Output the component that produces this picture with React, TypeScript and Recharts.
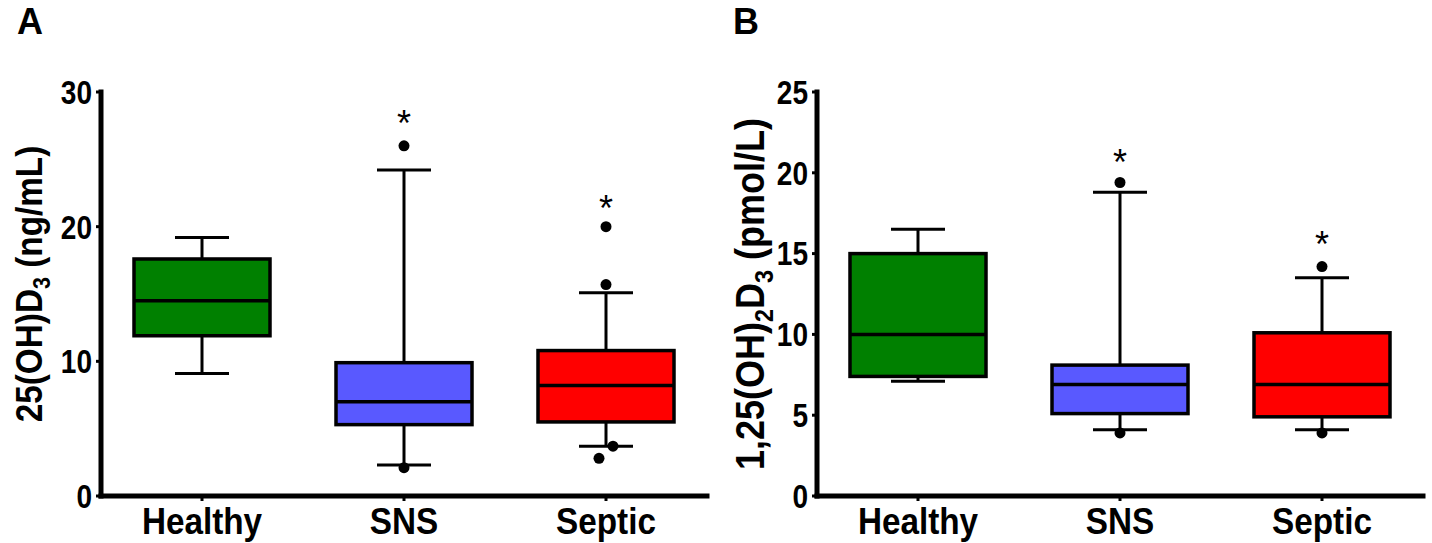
import React from "react";
import { ComposedChart, Bar, Cell, Line, XAxis, YAxis } from "recharts";

const groups = ["Healthy", "SNS", "Septic"];
const colors = ["#008000", "#5959FF", "#FF0000"];

// panel A: 25(OH)D3, ng/mL
const aLow = [9.1, 2.3, 3.7];
const aQ1 = [11.9, 5.3, 5.5];
const aMedian = [14.5, 7.0, 8.2];
const aQ3 = [17.6, 9.9, 10.8];
const aHigh = [19.2, 24.2, 15.1];
const aOutliers = [[], [26.0, 2.1], [20.0, 15.7, 3.7, 2.8]];
const aStars = [null, 28.2, 21.9];
const aTicks = [0, 10, 20, 30];

// panel B: 1,25(OH)2D3, pmol/L
const bLow = [7.1, 4.1, 4.1];
const bQ1 = [7.4, 5.1, 4.9];
const bMedian = [10.0, 6.9, 6.9];
const bQ3 = [15.0, 8.1, 10.1];
const bHigh = [16.5, 18.8, 13.5];
const bOutliers = [[], [19.4, 3.9], [14.2, 3.9]];
const bStars = [null, 21.1, 16.0];
const bTicks = [0, 5, 10, 15, 20, 25];

const font = "'Liberation Sans', Arial, sans-serif";
const outKeys = ["o0", "o1", "o2", "o3"];

function buildRows(low, q1, med, q3, high, outliers, stars) {
  return groups.map((name, i) => ({
    name,
    range: [low[i], high[i]],
    q1: q1[i],
    med: med[i],
    q3: q3[i],
    o0: outliers[i][0] ?? null,
    o1: outliers[i][1] ?? null,
    o2: outliers[i][2] ?? null,
    o3: outliers[i][3] ?? null,
    star: stars[i],
  }));
}

const BoxShape = (props: any) => {
  const { x, y, width, height, payload, fill } = props;
  const top = Math.min(y, y + height);
  const bottom = Math.max(y, y + height);
  const [lo, hi] = payload.range;
  const py = (v: number) => bottom - ((v - lo) / (hi - lo)) * (bottom - top);
  const cx = x + width / 2;
  const cap = 27;
  return (
    <g>
      <line x1={cx} x2={cx} y1={py(hi)} y2={py(payload.q3)} stroke="#000" strokeWidth={3} />
      <line x1={cx} x2={cx} y1={py(payload.q1)} y2={py(lo)} stroke="#000" strokeWidth={3} />
      <line x1={cx - cap} x2={cx + cap} y1={py(hi)} y2={py(hi)} stroke="#000" strokeWidth={3} />
      <line x1={cx - cap} x2={cx + cap} y1={py(lo)} y2={py(lo)} stroke="#000" strokeWidth={3} />
      <rect x={x} y={py(payload.q3)} width={width} height={py(payload.q1) - py(payload.q3)} fill={fill} stroke="#000" strokeWidth={3.5} />
      <line x1={x} x2={x + width} y1={py(payload.med)} y2={py(payload.med)} stroke="#000" strokeWidth={3.5} />
    </g>
  );
};

// outliers that sit close to each other are nudged apart sideways
const OutlierDot = (props: any) => {
  const { cx, cy, value, index, payload, dataKey } = props;
  if (value == null || cy == null) return <g key={`d${index}`} />;
  let dx = 0;
  const near = outKeys.filter((k) => k !== dataKey && payload[k] != null && Math.abs(payload[k] - value) < 1.2);
  if (near.length) dx = near.some((k) => payload[k] < value) ? 7 : -7;
  return <circle key={`d${index}`} cx={cx + dx} cy={cy} r={5.5} fill="#000" />;
};

const StarDot = (props: any) => {
  const { cx, cy, value, index } = props;
  if (value == null || cy == null) return <g key={`s${index}`} />;
  return (
    <text key={`s${index}`} x={cx} y={cy + 20} textAnchor="middle" fontSize={36} fontFamily={font} fill="#000">
      *
    </text>
  );
};

const XTick = (p: any) => (
  <g transform={`translate(${p.x},${p.y})`}>
    <text transform="scale(0.9,1)" textAnchor="middle" dy="0.71em" fontSize={37} fontWeight="bold" fontFamily={font} fill="#000">
      {p.payload.value}
    </text>
  </g>
);

const YTick = (p: any) => (
  <g transform={`translate(${p.x},${p.y})`}>
    <text transform="scale(0.85,1)" textAnchor="end" dy="0.36em" fontSize={33} fontWeight="bold" fontFamily={font} fill="#000">
      {p.payload.value}
    </text>
  </g>
);

function Panel({ rows, ticks, max, letter, labelMain, labelSub, labelTail, labelSub2, labelX, labelShift, labelSize }) {
  const sub = Math.round(labelSize * 0.65);
  const drop = Math.round(labelSize * 0.22);
  return (
    <div style={{ position: "relative", width: 716, height: 543 }}>
      <div style={{ position: "absolute", left: 17, top: 4, fontFamily: font, fontWeight: "bold", fontSize: 36, lineHeight: "36px" }}>
        {letter}
      </div>
      <div style={{ position: "absolute", left: 0, top: 0 }}>
        <ComposedChart width={716} height={543} data={rows} margin={{ top: 92, right: 9, bottom: 2, left: 40 }}>
          <XAxis
            dataKey="name"
            height={45}
            axisLine={{ stroke: "#000", strokeWidth: 5, strokeLinecap: "square" }}
            tickLine={{ stroke: "#000", strokeWidth: 3 }}
            tickSize={5}
            tickMargin={7}
            tick={XTick}
          />
          <YAxis
            width={61}
            domain={[0, max]}
            ticks={ticks}
            axisLine={{ stroke: "#000", strokeWidth: 5, strokeLinecap: "square" }}
            tickLine={{ stroke: "#000", strokeWidth: 3 }}
            tickSize={5}
            tickMargin={4}
            tick={YTick}
            label={{
              content: (p: any) => {
                const vb = p.viewBox;
                const cy = vb.y + vb.height / 2 + labelShift;
                return (
                  <text
                    transform={`translate(${labelX},${cy}) rotate(-90) scale(0.9,1)`}
                    textAnchor="middle"
                    fontSize={labelSize}
                    fontWeight="bold"
                    fontFamily={font}
                    fill="#000"
                  >
                    {labelMain}
                    <tspan dy={drop} fontSize={sub}>{labelSub}</tspan>
                    {labelSub2 ? (
                      <>
                        <tspan dy={-drop}>D</tspan>
                        <tspan dy={drop} fontSize={sub}>{labelSub2}</tspan>
                      </>
                    ) : null}
                    <tspan dy={-drop}>{labelTail}</tspan>
                  </text>
                );
              },
            }}
          />
          <Bar dataKey="range" barSize={136} shape={BoxShape} isAnimationActive={false}>
            {rows.map((r, i) => (
              <Cell key={r.name} fill={colors[i]} />
            ))}
          </Bar>
          {outKeys.map((k) => (
            <Line key={k} dataKey={k} stroke="none" dot={OutlierDot} activeDot={false} isAnimationActive={false} />
          ))}
          <Line dataKey="star" stroke="none" dot={StarDot} activeDot={false} isAnimationActive={false} />
        </ComposedChart>
      </div>
    </div>
  );
}

export default function App() {
  const rowsA = buildRows(aLow, aQ1, aMedian, aQ3, aHigh, aOutliers, aStars);
  const rowsB = buildRows(bLow, bQ1, bMedian, bQ3, bHigh, bOutliers, bStars);
  return (
    <div style={{ position: "absolute", left: 0, top: 0, width: 1432, height: 543, background: "#fff", display: "flex" }}>
      <Panel rows={rowsA} ticks={aTicks} max={30} letter="A" labelMain="25(OH)D" labelSub="3" labelSub2={null} labelTail=" (ng/mL)" labelX={42} labelShift={-10} labelSize={37} />
      <Panel rows={rowsB} ticks={bTicks} max={25} letter="B" labelMain="1,25(OH)" labelSub="2" labelSub2="3" labelTail=" (pmol/L)" labelX={48} labelShift={0} labelSize={40} />
    </div>
  );
}
